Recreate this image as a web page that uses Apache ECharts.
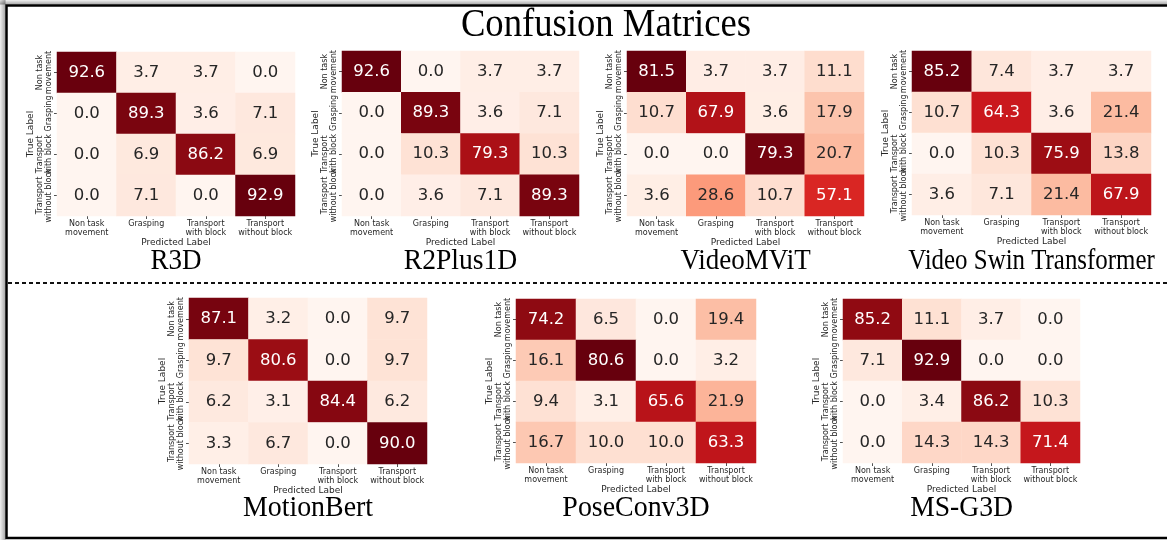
<!DOCTYPE html>
<html><head><meta charset="utf-8">
<script src="https://cdn.jsdelivr.net/npm/echarts@6/dist/echarts.min.js"></script>
<style>html,body{margin:0;padding:0;background:#fff}#c{width:1167px;height:540px}</style>
</head><body><div id="c"></div>
<script>
// ---- data ----
const classLabels = ['Non task\nmovement', 'Grasping', 'Transport\nwith block', 'Transport\nwithout block'];
const modelNames = ['R3D', 'R2Plus1D', 'VideoMViT', 'Video Swin Transformer', 'MotionBert', 'PoseConv3D', 'MS-G3D'];
const r3d        = [[92.6, 3.7, 3.7, 0.0], [0.0, 89.3, 3.6, 7.1], [0.0, 6.9, 86.2, 6.9], [0.0, 7.1, 0.0, 92.9]];
const r2plus1d   = [[92.6, 0.0, 3.7, 3.7], [0.0, 89.3, 3.6, 7.1], [0.0, 10.3, 79.3, 10.3], [0.0, 3.6, 7.1, 89.3]];
const videoMViT  = [[81.5, 3.7, 3.7, 11.1], [10.7, 67.9, 3.6, 17.9], [0.0, 0.0, 79.3, 20.7], [3.6, 28.6, 10.7, 57.1]];
const videoSwin  = [[85.2, 7.4, 3.7, 3.7], [10.7, 64.3, 3.6, 21.4], [0.0, 10.3, 75.9, 13.8], [3.6, 7.1, 21.4, 67.9]];
const motionBert = [[87.1, 3.2, 0.0, 9.7], [9.7, 80.6, 0.0, 9.7], [6.2, 3.1, 84.4, 6.2], [3.3, 6.7, 0.0, 90.0]];
const poseConv3D = [[74.2, 6.5, 0.0, 19.4], [16.1, 80.6, 0.0, 3.2], [9.4, 3.1, 65.6, 21.9], [16.7, 10.0, 10.0, 63.3]];
const msG3D      = [[85.2, 11.1, 3.7, 0.0], [7.1, 92.9, 0.0, 0.0], [0.0, 3.4, 86.2, 10.3], [0.0, 14.3, 14.3, 71.4]];
const matrices = [r3d, r2plus1d, videoMViT, videoSwin, motionBert, poseConv3D, msG3D];

// ---- layout (positions / styles) ----
const panels = [
  {left: 57,  top: 52,  width: 238, height: 164, sx: 0.90},
  {left: 342, top: 51,  width: 237, height: 165, sx: 0.92},
  {left: 627, top: 51,  width: 237, height: 165, sx: 0.90},
  {left: 912, top: 51,  width: 239, height: 164, sx: 0.83},
  {left: 189, top: 298, width: 238, height: 166, sx: 0.93},
  {left: 516, top: 299, width: 240, height: 164, sx: 0.93},
  {left: 843, top: 299, width: 237, height: 164, sx: 0.92}
];
const REDS = ['#fff5f0', '#fee0d2', '#fcbba1', '#fc9272', '#fb6a4a', '#ef3b2c', '#cb181d', '#a50f15', '#67000d'];
const SANS = 'DejaVu Sans';
const SERIF = 'Liberation Serif';

function hex2rgb(h) { return [1, 3, 5].map(i => parseInt(h.substr(i, 2), 16)); }
function redsAt(t) {
  t = Math.max(0, Math.min(1, t));
  const p = t * (REDS.length - 1), i = Math.min(REDS.length - 2, Math.floor(p)), f = p - i;
  const a = hex2rgb(REDS[i]), b = hex2rgb(REDS[i + 1]);
  return a.map((v, k) => v + (b[k] - v) * f);
}
function lum(rgb) {
  const c = rgb.map(v => { v /= 255; return v <= 0.03928 ? v / 12.92 : Math.pow((v + 0.055) / 1.055, 2.4); });
  return 0.2126 * c[0] + 0.7152 * c[1] + 0.0722 * c[2];
}

const grid = [], xAxis = [], yAxis = [], series = [], visualMap = [], graphic = [];
matrices.forEach((m, i) => {
  const p = panels[i];
  const vmax = Math.max(...m.flat());
  const vmin = Math.min(...m.flat());
  grid.push({left: p.left, top: p.top, width: p.width, height: p.height});
  xAxis.push({
    type: 'category', gridIndex: i, data: classLabels, position: 'bottom',
    axisLine: {show: false},
    axisTick: {show: true, alignWithLabel: true, length: 3, lineStyle: {color: '#262626', width: 0.8}},
    axisLabel: {fontFamily: SANS, fontSize: 8, color: '#262626', lineHeight: 8.5, margin: 4, interval: 0},
    name: 'Predicted Label', nameLocation: 'middle', nameGap: 15.5,
    nameTextStyle: {fontFamily: SANS, fontSize: 9, color: '#262626'}
  });
  yAxis.push({
    type: 'category', gridIndex: i, data: classLabels, inverse: true,
    axisLine: {show: false},
    axisTick: {show: true, alignWithLabel: true, length: 3, lineStyle: {color: '#262626', width: 0.8}},
    axisLabel: {fontFamily: SANS, fontSize: 8, color: '#262626', lineHeight: 8.5, margin: 4, rotate: 90, interval: 0},
    name: 'True Label', nameLocation: 'middle', nameGap: 21, nameRotate: 90,
    nameTextStyle: {fontFamily: SANS, fontSize: 9, color: '#262626'}
  });
  const data = [];
  m.forEach((row, r) => row.forEach((v, c) => {
    const col = redsAt((v - vmin) / (vmax - vmin));
    data.push({value: [c, r, v], label: {color: lum(col) < 0.408 ? '#ffffff' : '#262626'}});
  }));
  series.push({
    type: 'heatmap', xAxisIndex: i, yAxisIndex: i, data: data,
    label: {show: true, fontFamily: SANS, fontSize: 16.5, formatter: q => q.value[2].toFixed(1)},
    emphasis: {disabled: true}, itemStyle: {borderWidth: 0}
  });
  visualMap.push({
    type: 'continuous', show: false, seriesIndex: i, dimension: 2,
    min: vmin, max: vmax, inRange: {color: REDS}
  });
  graphic.push({
    type: 'text', x: p.left + p.width / 2, y: i < 4 ? 261 : 508, scaleX: p.sx,
    style: {text: modelNames[i], font: '30px "' + SERIF + '"', fill: '#000', textAlign: 'center', textVerticalAlign: 'middle'}
  });
});

// frame, title, separator
graphic.push(
  {type: 'rect', shape: {x: 0, y: 0, width: 5.5, height: 540}, silent: true,
   style: {fill: new echarts.graphic.LinearGradient(0, 0, 1, 0, [{offset: 0, color: 'rgba(0,0,0,0.06)'}, {offset: 1, color: 'rgba(0,0,0,0.35)'}])}},
  {type: 'rect', shape: {x: 0, y: 0, width: 1167, height: 4.5}, silent: true,
   style: {fill: new echarts.graphic.LinearGradient(0, 0, 0, 1, [{offset: 0, color: 'rgba(0,0,0,0.06)'}, {offset: 1, color: 'rgba(0,0,0,0.35)'}])}},
  {type: 'rect', shape: {x: 6.5, y: 5.5, width: 1200, height: 532.5}, silent: true,
   style: {fill: 'none', stroke: '#000', lineWidth: 2.5}},
  {type: 'line', shape: {x1: 8, y1: 283, x2: 1167, y2: 283}, silent: true,
   style: {stroke: '#111', lineWidth: 2, lineDash: [4, 3]}},
  {type: 'text', x: 606, y: 26, scaleX: 0.94,
   style: {text: 'Confusion Matrices', font: '39px "' + SERIF + '"', fill: '#000', textAlign: 'center', textVerticalAlign: 'middle'}}
);

const chart = echarts.init(document.getElementById('c'), null, {renderer: 'canvas'});
chart.setOption({animation: false, backgroundColor: '#fff', grid, xAxis, yAxis, visualMap, series, graphic});
</script></body></html>
